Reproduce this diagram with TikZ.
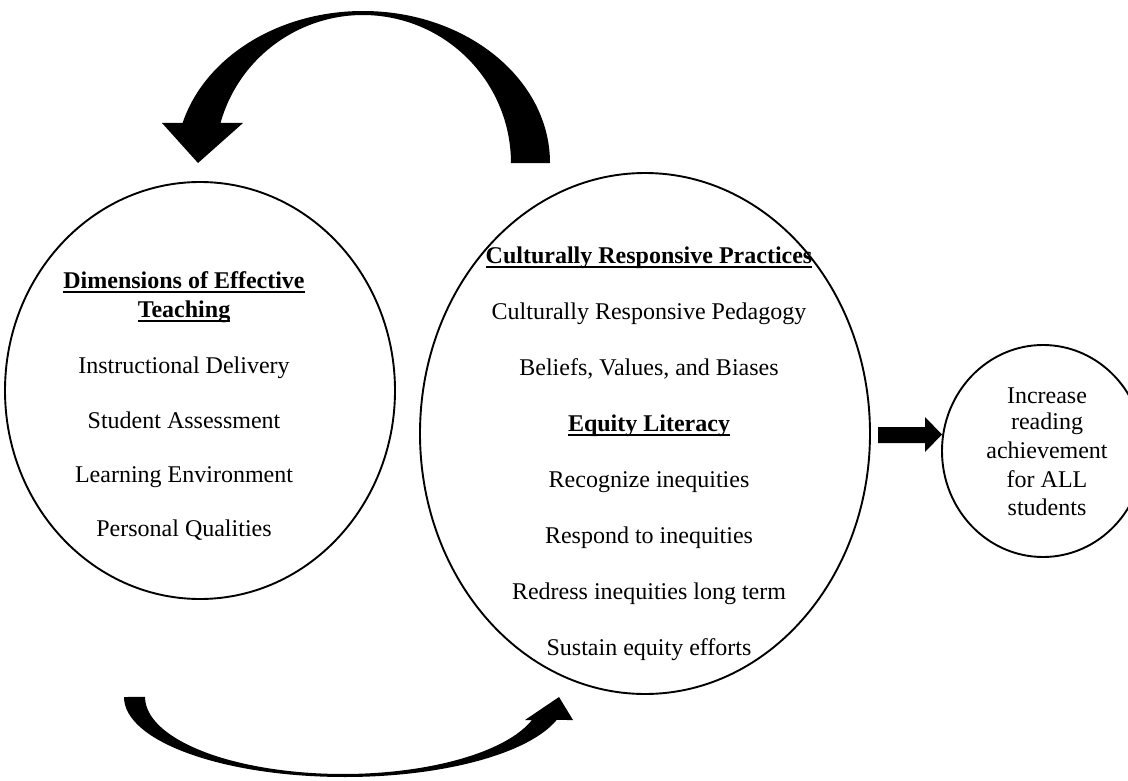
\documentclass[tikz,border=0pt]{standalone}
\usepackage{fontspec}
\setmainfont{Liberation Serif}
\usetikzlibrary{shapes.geometric}
\newcommand{\myul}[1]{\setbox0\hbox{#1}\rlap{\rule[-4.5pt]{\wd0}{1.6pt}}\box0}
\tikzset{
  oval/.style={draw=black, line width=1.9pt, ellipse, inner sep=0pt},
  txt/.style={anchor=base, inner sep=0pt, font=\fontsize{24}{29}\selectfont},
  btxt/.style={txt, font=\fontsize{24}{29}\selectfont\bfseries},
  blockarrow/.style={fill=black}
}
\begin{document}
\begin{tikzpicture}[x=1pt,y=1pt]
\useasboundingbox (0,0) rectangle (1128,-781);
\clip (0,0) rectangle (1128,-781);
\fill[white] (0,0) rectangle (1128,-781);
% ellipses
\node[oval, minimum width=390pt, minimum height=417pt] (left) at (200,-390.5) {};
\node[oval, minimum width=450pt, minimum height=521pt] (mid) at (645,-433.5) {};
\node[oval, minimum width=202pt, minimum height=212pt] (right) at (1043,-451) {};
% left text
\node[btxt] (l1) at (184,-288) {\myul{Dimensions of Effective}};
\node[btxt] (l2) at (184,-317) {\myul{Teaching}};
\node[txt] (l3) at (184,-373) {Instructional Delivery};
\node[txt] (l4) at (184,-428) {Student Assessment};
\node[txt] (l5) at (184,-482) {Learning Environment};
\node[txt] (l6) at (184,-536) {Personal Qualities};
% middle text
\node[btxt] (m1) at (649,-263) {\myul{Culturally Responsive Practices}};
\node[txt] (m2) at (649,-319) {Culturally Responsive Pedagogy};
\node[txt] (m3) at (649,-375) {Beliefs, Values, and Biases};
\node[btxt] (m4) at (649,-431) {\myul{Equity Literacy}};
\node[txt] (m5) at (649,-487) {Recognize inequities};
\node[txt] (m6) at (649,-543) {Respond to inequities};
\node[txt] (m7) at (649,-599) {Redress inequities long term};
\node[txt] (m8) at (649,-655) {Sustain equity efforts};
% right text
\node[txt] (r1) at (1047,-403) {Increase};
\node[txt] (r2) at (1047,-429) {reading};
\node[txt] (r3) at (1047,-458) {achievement};
\node[txt] (r4) at (1047,-487) {for ALL};
\node[txt] (r5) at (1047,-515) {students};
% top curved arrow (from middle back to left)
\fill[blockarrow] (550,-163) arc[start angle=0, end angle=164.7, x radius=187pt, y radius=152pt]
  -- (162,-123) -- (198,-163) -- (243,-123) -- (220.5,-123)
  arc[start angle=164.3, end angle=0, radius=148pt] -- cycle;
% bottom curved arrow (from left to middle)
\fill[blockarrow] (124,-697) arc[start angle=180, end angle=343.3, x radius=221pt, y radius=80pt]
  -- (573,-720) -- (559,-697) -- (525,-720) -- (532,-720)
  arc[start angle=342.6, end angle=180, x radius=198pt, y radius=77pt] -- cycle;
% straight block arrow (middle to right)
\fill[blockarrow] (878,-427) -- (925,-427) -- (925,-417) -- (942,-434.5) -- (925,-452) -- (925,-443) -- (878,-443) -- cycle;
\end{tikzpicture}
\end{document}
